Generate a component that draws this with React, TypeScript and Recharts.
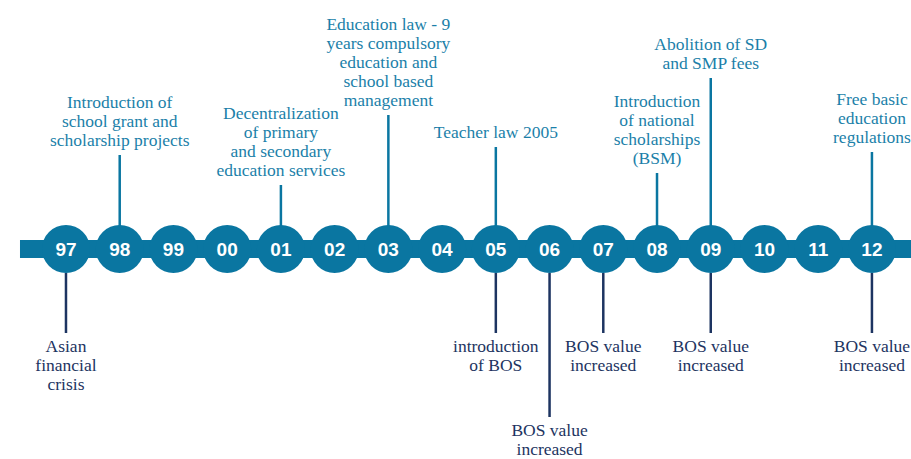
import React from "react";
import {
  ComposedChart,
  ReferenceArea,
  ReferenceLine,
  Scatter,
  XAxis,
  YAxis,
} from "recharts";

// timeline years and the short labels shown in the circles
const YEARS = [1997, 1998, 1999, 2000, 2001, 2002, 2003, 2004, 2005, 2006, 2007, 2008, 2009, 2010, 2011, 2012];
const YEAR_LABELS = ["97", "98", "99", "00", "01", "02", "03", "04", "05", "06", "07", "08", "09", "10", "11", "12"];

// events above the line (policy milestones)
const TOP_EVENT_YEARS = [1998, 2001, 2003, 2005, 2008, 2009, 2012];
const TOP_EVENT_HEIGHTS = [94, 64, 134, 102, 76, 171, 97];
const TOP_EVENT_TEXT = [
  ["Introduction of", "school grant and", "scholarship projects"],
  ["Decentralization", "of primary", "and secondary", "education services"],
  ["Education law - 9", "years compulsory", "education and", "school based", "management"],
  ["Teacher law 2005"],
  ["Introduction", "of national", "scholarships", "(BSM)"],
  ["Abolition of SD", "and SMP fees"],
  ["Free basic", "education", "regulations"],
];

// events below the line (crisis / BOS funding)
const BOTTOM_EVENT_YEARS = [1997, 2005, 2006, 2007, 2009, 2012];
const BOTTOM_EVENT_DEPTHS = [-84, -84, -168, -84, -84, -84];
const BOTTOM_EVENT_TEXT = [
  ["Asian", "financial", "crisis"],
  ["introduction", "of BOS"],
  ["BOS value", "increased"],
  ["BOS value", "increased"],
  ["BOS value", "increased"],
  ["BOS value", "increased"],
];

// axis extents (years), chosen so the band runs off the right edge
const X_MIN = 1995.772;
const X_MAX = 2012.727;
const BAND_START = 1996.144;
const Y_MIN = -210;
const Y_MAX = 249;

const TEAL = "#0a76a1";
const TEAL_TEXT = "#1b7fa9";
const NAVY = "#1d3461";
const CIRCLE_R = 24;
const LINE_H = 19;
const serifStyle = { fontFamily: "'Liberation Serif', 'Times New Roman', serif", fontSize: 17.5 };

const circleData = YEARS.map((x, i) => ({ x, y: 0, label: YEAR_LABELS[i] }));
const topLabelData = TOP_EVENT_YEARS.map((x, i) => ({ x, y: TOP_EVENT_HEIGHTS[i], lines: TOP_EVENT_TEXT[i] }));
const bottomLabelData = BOTTOM_EVENT_YEARS.map((x, i) => ({
  x,
  y: BOTTOM_EVENT_DEPTHS[i],
  lines: BOTTOM_EVENT_TEXT[i],
}));

function YearCircle(props: any) {
  const { cx, cy, payload } = props;
  return (
    <g>
      <circle cx={cx} cy={cy} r={CIRCLE_R} fill={TEAL} />
      <text
        x={cx}
        y={cy + 7}
        textAnchor="middle"
        fill="#fff"
        style={{ fontFamily: "'Liberation Sans', Arial, sans-serif", fontWeight: 700, fontSize: 19 }}
      >
        {payload.label}
      </text>
    </g>
  );
}

// stacked lines ending just above the stem top
function TopLabel(props: any) {
  const { cx, cy, payload } = props;
  const lines: string[] = payload.lines;
  const last = cy - 9;
  return (
    <text textAnchor="middle" fill={TEAL_TEXT} style={serifStyle}>
      {lines.map((l, i) => (
        <tspan key={i} x={cx} y={last - (lines.length - 1 - i) * LINE_H}>
          {l}
        </tspan>
      ))}
    </text>
  );
}

function BottomLabel(props: any) {
  const { cx, cy, payload } = props;
  const lines: string[] = payload.lines;
  return (
    <text textAnchor="middle" fill={NAVY} style={serifStyle}>
      {lines.map((l, i) => (
        <tspan key={i} x={cx} y={cy + 19 + i * LINE_H}>
          {l}
        </tspan>
      ))}
    </text>
  );
}

export default function App() {
  return (
    <div style={{ position: "absolute", left: 0, top: 0, width: 911, height: 459, background: "#fff" }}>
      <ComposedChart width={911} height={459} margin={{ top: 0, right: 0, bottom: 0, left: 0 }}>
        <XAxis type="number" dataKey="x" domain={[X_MIN, X_MAX]} hide allowDataOverflow />
        <YAxis type="number" dataKey="y" domain={[Y_MIN, Y_MAX]} hide allowDataOverflow />
        <ReferenceArea
          x1={BAND_START}
          x2={X_MAX}
          y1={-9}
          y2={9}
          fill={TEAL}
          fillOpacity={1}
          stroke="none"
          ifOverflow="visible"
        />
        {TOP_EVENT_YEARS.map((x, i) => (
          <ReferenceLine
            key={`t${x}`}
            segment={[
              { x, y: CIRCLE_R - 2 },
              { x, y: TOP_EVENT_HEIGHTS[i] },
            ]}
            stroke={TEAL}
            strokeWidth={2.5}
            ifOverflow="visible"
          />
        ))}
        {BOTTOM_EVENT_YEARS.map((x, i) => (
          <ReferenceLine
            key={`b${x}`}
            segment={[
              { x, y: -CIRCLE_R },
              { x, y: BOTTOM_EVENT_DEPTHS[i] },
            ]}
            stroke={NAVY}
            strokeWidth={2.5}
            ifOverflow="visible"
          />
        ))}
        <Scatter data={circleData} dataKey="y" shape={YearCircle} isAnimationActive={false} />
        <Scatter data={topLabelData} dataKey="y" shape={TopLabel} isAnimationActive={false} />
        <Scatter data={bottomLabelData} dataKey="y" shape={BottomLabel} isAnimationActive={false} />
      </ComposedChart>
    </div>
  );
}
